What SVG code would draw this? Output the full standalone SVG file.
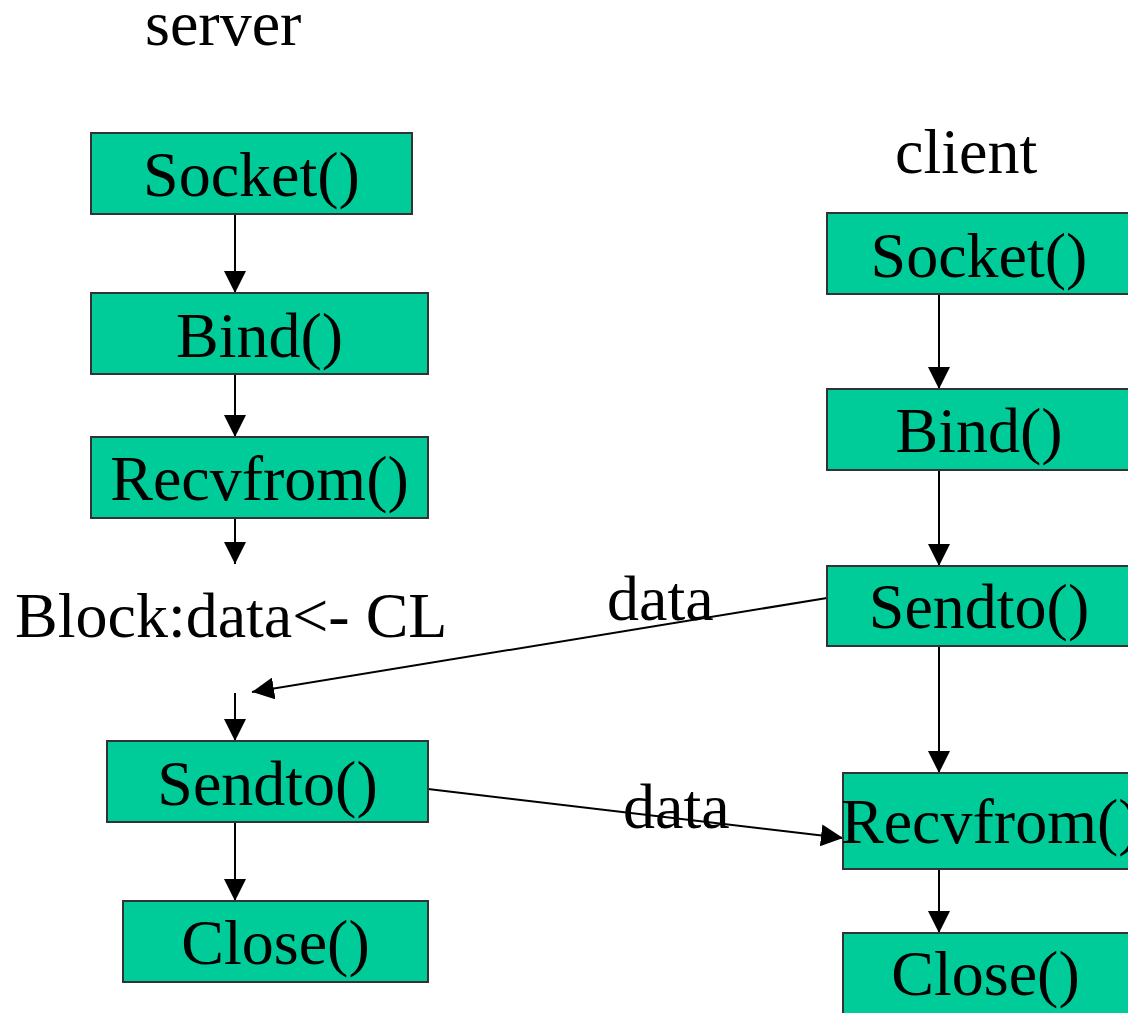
<svg xmlns="http://www.w3.org/2000/svg" width="1128" height="1013" viewBox="0 0 1128 1013">
<style>
.box{fill:#00CC99;stroke:#333;stroke-width:2}
.t{font-family:"Liberation Serif","Times New Roman",serif;font-size:64px;fill:#000}
.c{text-anchor:middle}
.edge{stroke:#000;stroke-width:2;fill:none}
</style>
<defs>
<marker id="ah" markerUnits="userSpaceOnUse" markerWidth="22" markerHeight="22" refX="20" refY="10" orient="auto" viewBox="0 0 20 20">
<path d="M0,0 L20,10 L0,20 Z" fill="#000"/>
</marker>
</defs>
<rect width="1128" height="1013" fill="#fff"/>
<text class="t" x="145" y="45">server</text>
<text class="t" x="895" y="173">client</text>
<text class="t" x="15" y="637">Block:data&lt;- CL</text>
<text class="t" x="607" y="620">data</text>
<text class="t" x="623" y="828">data</text>

<g id="connectors">
<line class="edge" x1="235" y1="214" x2="235" y2="293" marker-end="url(#ah)"/>
<line class="edge" x1="235" y1="374" x2="235" y2="437" marker-end="url(#ah)"/>
<line class="edge" x1="235" y1="518" x2="235" y2="564" marker-end="url(#ah)"/>
<line class="edge" x1="235" y1="693" x2="235" y2="741" marker-end="url(#ah)"/>
<line class="edge" x1="235" y1="822" x2="235" y2="901" marker-end="url(#ah)"/>
<line class="edge" x1="939" y1="294" x2="939" y2="389" marker-end="url(#ah)"/>
<line class="edge" x1="939" y1="470" x2="939" y2="566" marker-end="url(#ah)"/>
<line class="edge" x1="939" y1="646" x2="939" y2="773" marker-end="url(#ah)"/>
<line class="edge" x1="939" y1="869" x2="939" y2="933" marker-end="url(#ah)"/>
<line class="edge" x1="827" y1="598" x2="252" y2="692" marker-end="url(#ah)"/>
<line class="edge" x1="428" y1="789" x2="843" y2="838" marker-end="url(#ah)"/>
</g>

<g id="s-socket"><rect class="box" x="91" y="133" width="321" height="81"/><text class="t c" x="251.5" y="196">Socket()</text></g>
<g id="s-bind"><rect class="box" x="91" y="293" width="337" height="81"/><text class="t c" x="259.5" y="357">Bind()</text></g>
<g id="s-recvfrom"><rect class="box" x="91" y="437" width="337" height="81"/><text class="t c" x="259.5" y="500">Recvfrom()</text></g>
<g id="s-sendto"><rect class="box" x="107" y="741" width="321" height="81"/><text class="t c" x="267.5" y="805">Sendto()</text></g>
<g id="s-close"><rect class="box" x="123" y="901" width="305" height="81"/><text class="t c" x="275.5" y="964">Close()</text></g>

<g id="c-socket"><rect class="box" x="827" y="213" width="302" height="81"/><text class="t c" x="979" y="277">Socket()</text></g>
<g id="c-bind"><rect class="box" x="827" y="389" width="302" height="81"/><text class="t c" x="979" y="452">Bind()</text></g>
<g id="c-sendto"><rect class="box" x="827" y="566" width="302" height="80"/><text class="t c" x="979" y="628">Sendto()</text></g>
<g id="c-recvfrom"><rect class="box" x="843" y="773" width="290" height="96"/><text class="t" x="841" y="843">Recvfrom()</text></g>
<g id="c-close"><rect class="box" x="843" y="933" width="290" height="90"/><text class="t c" x="985.5" y="995">Close()</text></g>
</svg>
